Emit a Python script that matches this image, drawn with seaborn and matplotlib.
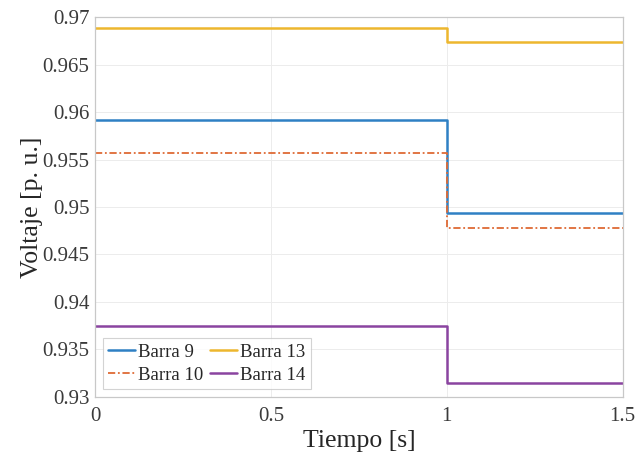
import pandas as pd
import seaborn as sns
import matplotlib.pyplot as plt

# Datos (tensión antes y después de t = 1 s)
tiempo = [0, 1, 1.5]
barras = ['Barra 9', 'Barra 10', 'Barra 13', 'Barra 14']
barra9 = [0.9592, 0.9494, 0.9494]
barra10 = [0.9557, 0.9478, 0.9478]
barra13 = [0.9688, 0.9674, 0.9674]
barra14 = [0.9375, 0.9315, 0.9315]

colores = ['#2F80C4', '#DE6A35', '#EDB72E', '#8A44A0']
estilos = ['-', (0, (4, 1.5, 1, 1.5)), '-', '-']
anchos = [1.8, 1.3, 1.8, 1.8]

df = pd.DataFrame({'Tiempo': tiempo * 4,
                   'Voltaje': barra9 + barra10 + barra13 + barra14,
                   'Barra': sum([[b] * 3 for b in barras], [])})

sns.set_style('white')
plt.rcParams['font.family'] = ['Liberation Serif', 'DejaVu Serif']

fig, ax = plt.subplots(figsize=(6.38, 4.61), dpi=100)
fig.subplots_adjust(left=0.149, right=0.976, top=0.963, bottom=0.139)

for b, c, ls, lw in zip(barras, colores, estilos, anchos):
    sns.lineplot(x='Tiempo', y='Voltaje', data=df[df['Barra'] == b], ax=ax,
                 color=c, linestyle=ls, linewidth=lw, drawstyle='steps-post',
                 label=b)

ax.set_xlim(0, 1.5)
ax.set_ylim(0.93, 0.97)
ax.set_xticks([0, 0.5, 1, 1.5])
ax.set_xticklabels(['0', '0.5', '1', '1.5'])
ax.set_yticks([0.93, 0.935, 0.94, 0.945, 0.95, 0.955, 0.96, 0.965, 0.97])
ax.set_yticklabels(['0.93', '0.935', '0.94', '0.945', '0.95', '0.955', '0.96', '0.965', '0.97'])
ax.grid(True, color='#ececec', linewidth=0.7)
ax.tick_params(direction='in', length=3, color='#bbbbbb', labelsize=15,
               labelcolor='#3a3a3a', pad=4)
ax.tick_params(axis='x', pad=7)
for s in ax.spines.values():
    s.set_color('#c8c8c8')
    s.set_linewidth(0.9)

ax.set_xlabel('Tiempo [s]', fontsize=18.5, color='#262626', labelpad=3)
ax.set_ylabel('Voltaje [p. u.]', fontsize=18.5, color='#262626', labelpad=0)

leg = ax.legend(ncol=2, loc='lower left', fontsize=13.5, frameon=True, fancybox=False,
                handlelength=1.45, handletextpad=0.15, columnspacing=0.35,
                borderpad=0.3, labelspacing=0.3, borderaxespad=0.4)
leg.get_frame().set_edgecolor('#c8c8c8')
leg.get_frame().set_linewidth(0.8)

plt.savefig('out.png', dpi=100)
